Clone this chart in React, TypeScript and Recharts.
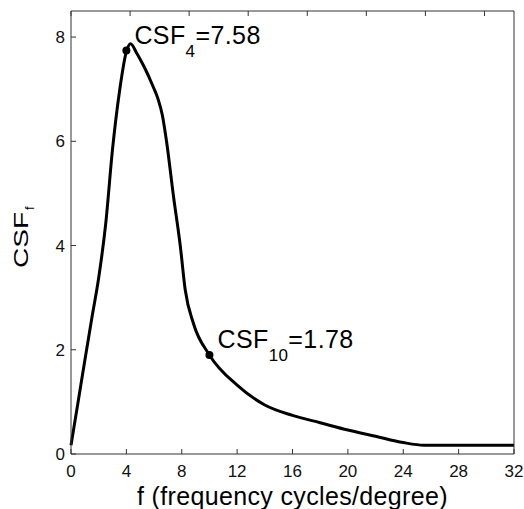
import React from 'react';
import { ComposedChart, Line, XAxis, YAxis, ReferenceDot, Label } from 'recharts';

const freq = [0, 0.5, 1, 1.5, 2, 2.5, 3, 3.5, 4, 4.3, 4.75, 5.3, 5.85, 6.3, 6.6, 6.9, 7.4, 7.9, 8.25, 8.85, 10, 12, 14, 16, 18, 20, 22, 24, 25.5, 28, 32];
const csf = [0.17, 0.98, 1.8, 2.6, 3.38, 4.4, 5.85, 6.95, 7.72, 7.87, 7.69, 7.42, 7.1, 6.8, 6.5, 6.0, 4.95, 3.98, 3.15, 2.5, 1.9, 1.32, 0.94, 0.74, 0.6, 0.46, 0.34, 0.22, 0.17, 0.17, 0.17];

const xTicks = [0, 4, 8, 12, 16, 20, 24, 28, 32];
const yTicks = [0, 2, 4, 6, 8];

const markF = [4, 10];
const markCsf = [7.74, 1.9];
const markSub = ['4', '10'];
const markText = ['=7.58', '=1.78'];

const xLabelText = 'f (frequency cycles/degree)';
const yLabelMain = 'CSF';
const yLabelSub = 'f';

const data = freq.map((f, i) => ({ f, csf: csf[i] }));

const AXIS = '#333';
const TICK_STYLE = { fill: '#111', fontSize: 17 };

const XLabel = (props: any) => {
  const vb = props.viewBox || {};
  return (
    <text x={vb.x + vb.width / 2} y={vb.y + 51} textAnchor="middle" fontSize={25} letterSpacing={0.35} fill="#000">
      {xLabelText}
    </text>
  );
};

const YLabel = (props: any) => {
  const vb = props.viewBox || {};
  const cx = vb.x + 28;
  const cy = vb.y + 257;
  return (
    <g transform={`translate(${cx},${cy}) rotate(-90)`}>
      <text x={0} y={0} textAnchor="start" fontSize={21} textLength={56} lengthAdjust="spacingAndGlyphs" fill="#000">
        {yLabelMain}
      </text>
      <text x={58} y={6} textAnchor="start" fontSize={13} fill="#000">
        {yLabelSub}
      </text>
    </g>
  );
};

const makeAnnot = (sub: string, txt: string) => (props: any) => {
  const vb = props.viewBox || {};
  const cx = vb.x + vb.width / 2;
  const cy = vb.y + vb.height / 2;
  return (
    <text x={cx + 8} y={cy - 7} fontSize={25} letterSpacing={0.4} fill="#000">
      CSF
      <tspan fontSize={17} dy={13}>{sub}</tspan>
      <tspan fontSize={25} dy={-13}>{txt}</tspan>
    </text>
  );
};

export default function App() {
  return (
    <div style={{ position: 'absolute', left: 0, top: 0, width: 524, height: 509, background: '#fff', fontFamily: '"Liberation Sans", Arial, Helvetica, sans-serif' }}>
      <ComposedChart width={524} height={509} data={data} margin={{ top: 10, right: 9, bottom: 0, left: 0 }}>
        <XAxis
          dataKey="f"
          type="number"
          domain={[0, 32]}
          ticks={xTicks}
          height={55}
          tickSize={-5}
          tickMargin={16}
          stroke={AXIS}
          tick={TICK_STYLE}
          interval={0}
        >
          <Label content={<XLabel />} />
        </XAxis>
        <XAxis
          xAxisId="top"
          orientation="top"
          type="number"
          domain={[0, 32]}
          ticks={xTicks}
          height={1}
          tickSize={-5}
          tickFormatter={() => ''}
          stroke={AXIS}
          interval={0}
        />
        <YAxis
          type="number"
          domain={[0, 8.5]}
          ticks={yTicks}
          width={71}
          tickSize={-5}
          tickMargin={11}
          stroke={AXIS}
          tick={TICK_STYLE}
          interval={0}
        >
          <Label content={<YLabel />} />
        </YAxis>
        <YAxis
          yAxisId="right"
          orientation="right"
          type="number"
          domain={[0, 8.5]}
          ticks={yTicks}
          width={1}
          tickSize={-5}
          tickFormatter={() => ''}
          stroke={AXIS}
          interval={0}
        />
        <Line
          dataKey="csf"
          type="monotone"
          stroke="#000"
          strokeWidth={3}
          dot={false}
          activeDot={false}
          isAnimationActive={false}
        />
        {markF.map((f, i) => (
          <ReferenceDot
            key={i}
            x={f}
            y={markCsf[i]}
            r={4}
            fill="#000"
            stroke="none"
            label={{ content: makeAnnot(markSub[i], markText[i]) }}
          />
        ))}
      </ComposedChart>
    </div>
  );
}
